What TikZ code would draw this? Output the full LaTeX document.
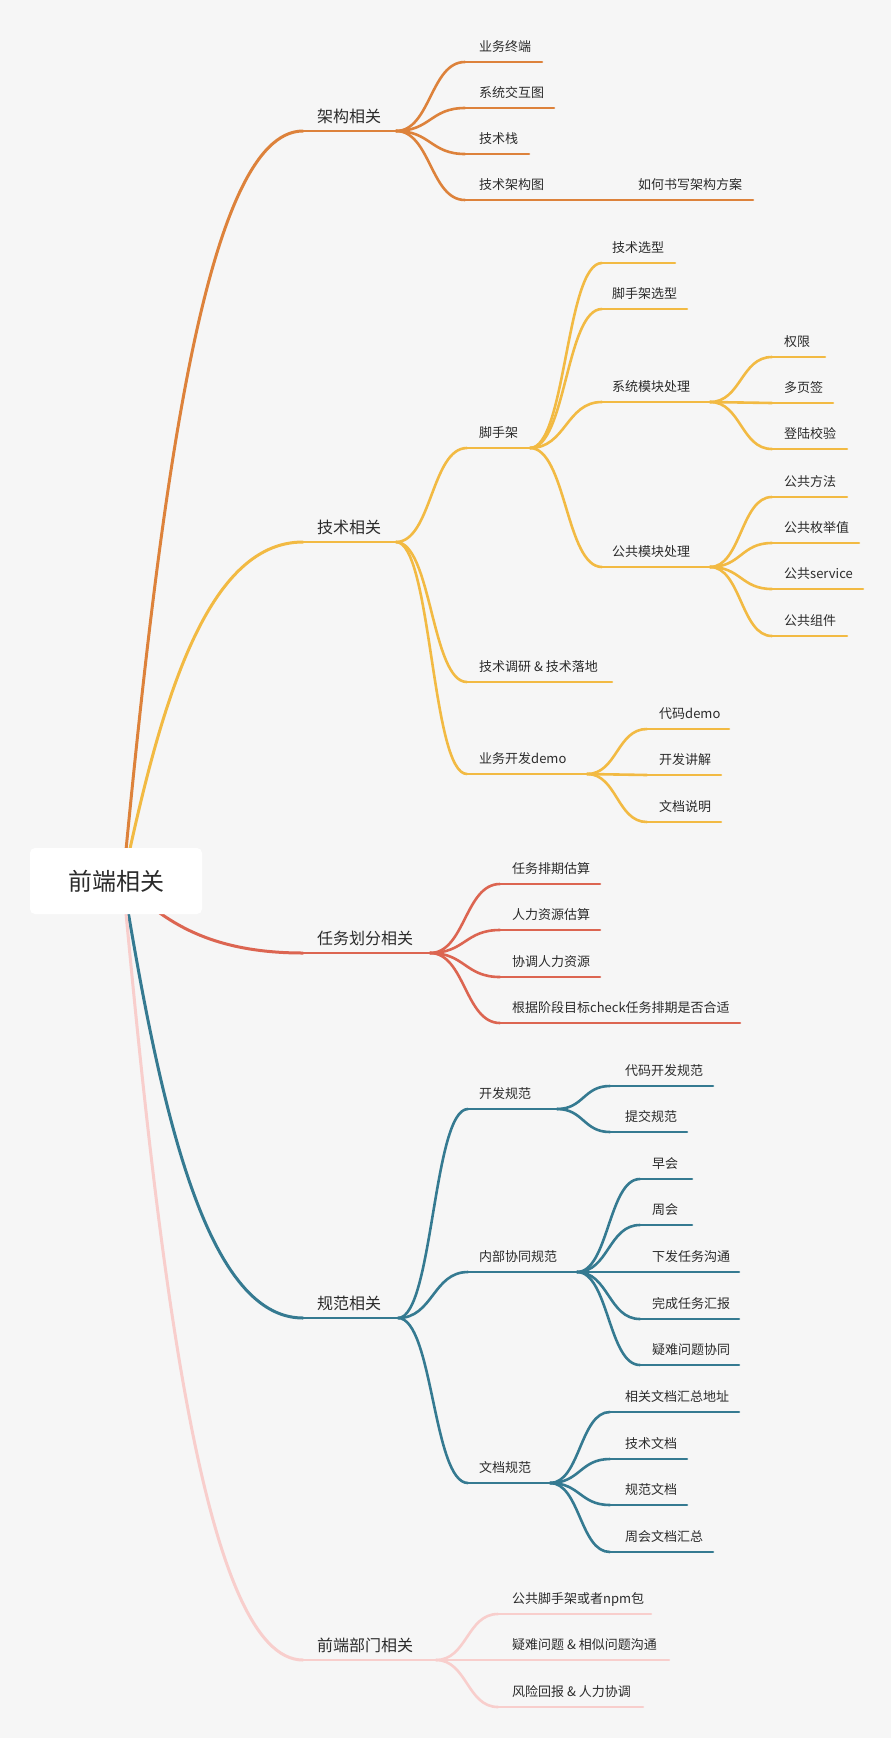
\documentclass[tikz,border=0pt]{standalone}
\usepackage{fontspec}
\setmainfont{Noto Sans CJK SC}
\usetikzlibrary{calc}
\definecolor{bg}{HTML}{F6F6F6}
\definecolor{txt}{HTML}{2B2B2B}
\definecolor{cOr}{HTML}{DD823B}
\definecolor{cYe}{HTML}{F2BA43}
\definecolor{cRe}{HTML}{DC6551}
\definecolor{cTe}{HTML}{357A91}
\definecolor{cPi}{HTML}{F8CECC}
\tikzset{
  lbl/.style={anchor=base west, inner sep=0pt, font=\fontsize{13}{15}\selectfont, text=txt},
  mainlbl/.style={anchor=base west, inner sep=0pt, font=\fontsize{16}{19}\selectfont, text=txt},
  br/.style={line width=2.6pt, line cap=round},
  rootbox/.style={fill=white, rounded corners=5pt, draw=none},
}
% #1 name, #2 line start x, #3 line end x, #4 line y, #5 text x, #6 baseline offset, #7 text, #8 colour, #9 label style
\newcommand{\topic}[9]{%
  \coordinate (#1s) at (#2,#4);
  \coordinate (#1e) at (#3,#4);
  \draw[br,#8] (#1s) -- (#1e);
  \node[#9] (#1) at (#5,{#4-#6}) {#7};
}
\newcommand{\sconn}[3]{%
  \draw[br,#3] let \p1=(#1), \p2=(#2) in (\p1) .. controls ({(\x1+\x2)/2},\y1) and ({(\x1+\x2)/2},\y2) .. (\p2);
}
\newcommand{\mconn}[2]{%
  \draw[br,line width=3pt,#2] let \p1=(rc), \p2=(#1) in (\p1) .. controls ({\x1+0.2*(\x2-\x1)},{\y1+0.5*(\y2-\y1)}) and ({\x1+0.45*(\x2-\x1)},\y2) .. (\p2);
}
\begin{document}
\begin{tikzpicture}[x=1pt,y=-1pt]
\useasboundingbox (0,0) rectangle (891,1738);
\fill[bg] (0,0) rectangle (891,1738);
\coordinate (rc) at (123,881);

% ---------- main topics ----------
\topic{A}{303}{396}{131}{317}{9}{架构相关}{cOr}{mainlbl}
\topic{B}{303}{396}{542}{317}{9}{技术相关}{cYe}{mainlbl}
\topic{C}{303}{430}{953}{317}{9}{任务划分相关}{cRe}{mainlbl}
\topic{D}{303}{398}{1318}{317}{9}{规范相关}{cTe}{mainlbl}
\topic{E}{303}{436}{1660}{317}{9}{前端部门相关}{cPi}{mainlbl}
\mconn{As}{cOr}
\mconn{Bs}{cYe}
\mconn{Cs}{cRe}
\mconn{Ds}{cTe}
\mconn{Es}{cPi}

% ---------- 架构相关 ----------
\topic{A1}{465}{542}{62}{479}{11}{业务终端}{cOr}{lbl}
\topic{A2}{465}{554}{108}{479}{11}{系统交互图}{cOr}{lbl}
\topic{A3}{465}{529}{154}{479}{11}{技术栈}{cOr}{lbl}
\topic{A4}{465}{600}{200}{479}{11}{技术架构图}{cOr}{lbl}
\topic{A41}{620}{753}{200}{638}{11}{如何书写架构方案}{cOr}{lbl}
\foreach \c in {A1,A2,A3,A4}{\sconn{Ae}{\c s}{cOr}}
\draw[br,cOr] (A4e) -- (A41s);

% ---------- 技术相关 ----------
\topic{B1}{467}{530}{448}{479}{11}{脚手架}{cYe}{lbl}
\topic{B2}{467}{612}{682}{479}{11}{技术调研 \& 技术落地}{cYe}{lbl}
\topic{B3}{467}{587}{774}{479}{11}{业务开发demo}{cYe}{lbl}
\foreach \c in {B1,B2,B3}{\sconn{Be}{\c s}{cYe}}

\topic{B11}{602}{675}{263}{612}{11}{技术选型}{cYe}{lbl}
\topic{B12}{602}{687}{309}{612}{11}{脚手架选型}{cYe}{lbl}
\topic{B13}{602}{710}{402}{612}{11}{系统模块处理}{cYe}{lbl}
\topic{B14}{602}{710}{567}{612}{11}{公共模块处理}{cYe}{lbl}
\foreach \c in {B11,B12,B13,B14}{\sconn{B1e}{\c s}{cYe}}

\topic{B131}{772}{825}{357}{784}{11}{权限}{cYe}{lbl}
\topic{B132}{772}{833}{403}{784}{11}{多页签}{cYe}{lbl}
\topic{B133}{772}{847}{449}{784}{11}{登陆校验}{cYe}{lbl}
\foreach \c in {B131,B132,B133}{\sconn{B13e}{\c s}{cYe}}

\topic{B141}{772}{847}{497}{784}{11}{公共方法}{cYe}{lbl}
\topic{B142}{772}{859}{543}{784}{11}{公共枚举值}{cYe}{lbl}
\topic{B143}{772}{863}{589}{784}{11}{公共service}{cYe}{lbl}
\topic{B144}{772}{847}{636}{784}{11}{公共组件}{cYe}{lbl}
\foreach \c in {B141,B142,B143,B144}{\sconn{B14e}{\c s}{cYe}}

\topic{B31}{647}{729}{729}{659}{11}{代码demo}{cYe}{lbl}
\topic{B32}{647}{721}{775}{659}{11}{开发讲解}{cYe}{lbl}
\topic{B33}{647}{721}{822}{659}{11}{文档说明}{cYe}{lbl}
\foreach \c in {B31,B32,B33}{\sconn{B3e}{\c s}{cYe}}

% ---------- 任务划分相关 ----------
\topic{C1}{500}{600}{884}{512}{11}{任务排期估算}{cRe}{lbl}
\topic{C2}{500}{600}{930}{512}{11}{人力资源估算}{cRe}{lbl}
\topic{C3}{500}{600}{977}{512}{11}{协调人力资源}{cRe}{lbl}
\topic{C4}{500}{740}{1023}{512}{11}{根据阶段目标check任务排期是否合适}{cRe}{lbl}
\foreach \c in {C1,C2,C3,C4}{\sconn{Ce}{\c s}{cRe}}

% ---------- 规范相关 ----------
\topic{D1}{468}{557}{1109}{479}{11}{开发规范}{cTe}{lbl}
\topic{D2}{468}{577}{1272}{479}{11}{内部协同规范}{cTe}{lbl}
\topic{D3}{468}{550}{1483}{479}{11}{文档规范}{cTe}{lbl}
\foreach \c in {D1,D2,D3}{\sconn{De}{\c s}{cTe}}

\topic{D11}{610}{713}{1086}{625}{11}{代码开发规范}{cTe}{lbl}
\topic{D12}{610}{687}{1132}{625}{11}{提交规范}{cTe}{lbl}
\foreach \c in {D11,D12}{\sconn{D1e}{\c s}{cTe}}

\topic{D21}{640}{692}{1179}{652}{11}{早会}{cTe}{lbl}
\topic{D22}{640}{692}{1225}{652}{11}{周会}{cTe}{lbl}
\topic{D23}{640}{739}{1272}{652}{11}{下发任务沟通}{cTe}{lbl}
\topic{D24}{640}{739}{1319}{652}{11}{完成任务汇报}{cTe}{lbl}
\topic{D25}{640}{739}{1365}{652}{11}{疑难问题协同}{cTe}{lbl}
\foreach \c in {D21,D22,D23,D24,D25}{\sconn{D2e}{\c s}{cTe}}

\topic{D31}{610}{739}{1412}{625}{11}{相关文档汇总地址}{cTe}{lbl}
\topic{D32}{610}{687}{1459}{625}{11}{技术文档}{cTe}{lbl}
\topic{D33}{610}{687}{1505}{625}{11}{规范文档}{cTe}{lbl}
\topic{D34}{610}{713}{1552}{625}{11}{周会文档汇总}{cTe}{lbl}
\foreach \c in {D31,D32,D33,D34}{\sconn{D3e}{\c s}{cTe}}

% ---------- 前端部门相关 ----------
\topic{E1}{498}{651}{1614}{512}{11}{公共脚手架或者npm包}{cPi}{lbl}
\topic{E2}{498}{669}{1660}{512}{11}{疑难问题 \& 相似问题沟通}{cPi}{lbl}
\topic{E3}{498}{643}{1707}{512}{11}{风险回报 \& 人力协调}{cPi}{lbl}
\foreach \c in {E1,E2,E3}{\sconn{Ee}{\c s}{cPi}}

% ---------- root ----------
\path[rootbox] (30,848) rectangle (202,914);
\node[inner sep=0pt, font=\fontsize{24}{28}\selectfont, text=txt] (root) at (116,881) {前端相关};
\end{tikzpicture}
\end{document}
